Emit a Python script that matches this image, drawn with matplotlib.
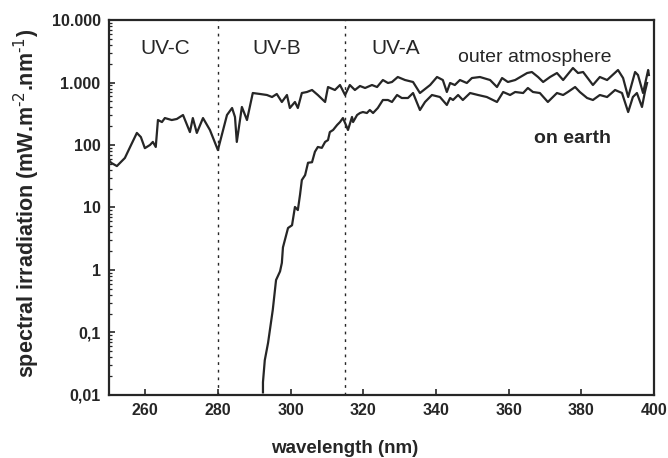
import numpy as np
import matplotlib.pyplot as plt
from matplotlib.ticker import FixedLocator, NullFormatter

# outer atmosphere spectrum (nm, mW m-2 nm-1)
outer_wl = [250.0, 250.6, 252.2, 254.4, 256.1, 257.7, 258.8, 259.9, 261.3, 262.1,
            262.9, 263.5, 264.6, 265.4, 267.3, 268.7, 270.4, 272.3, 273.1, 274.2,
            275.9, 277.8, 280.0, 282.5, 283.9, 284.7, 285.2, 286.6, 288.0, 289.6,
            291.6, 293.5, 294.9, 296.2, 297.6, 299.0, 299.8, 301.2, 302.0, 303.1,
            304.5, 305.9, 307.5, 309.5, 310.3, 312.2, 313.6, 315.0, 316.3, 317.7,
            319.1, 320.5, 322.4, 323.8, 325.4, 326.8, 327.9, 329.5, 331.5, 333.7,
            335.6, 338.4, 340.3, 341.9, 343.0, 343.9, 345.2, 346.6, 348.5, 349.9,
            352.1, 354.9, 356.8, 358.2, 359.8, 361.8, 365.1, 366.4, 368.1, 369.5,
            371.4, 373.3, 375.0, 377.7, 379.1, 380.5, 383.2, 385.1, 387.1, 390.1,
            391.5, 392.9, 394.8, 395.6, 397.0, 398.4, 398.6]
outer_val = [58, 52, 46, 62, 100, 156, 134, 89, 100, 112,
             93, 251, 233, 270, 251, 261, 302, 161, 270, 156,
             270, 174, 83, 302, 391, 281, 112, 406, 251, 679,
             655, 631, 586, 655, 488, 631, 391, 488, 391, 679,
             705, 759, 631, 488, 847, 759, 912, 631, 912, 759,
             879, 817, 912, 847, 1096, 982, 1019, 1225, 1096, 1019,
             679, 912, 1225, 1096, 705, 982, 912, 1096, 982, 1180,
             1225, 1096, 847, 1180, 1019, 1096, 1419, 1472, 1225, 1019,
             1225, 1419, 1096, 1706, 1419, 1472, 912, 1225, 1096, 1585,
             1180, 586, 1472, 1318, 679, 1585, 1318]

# spectrum on earth
earth_wl = [292.4, 292.4, 292.9, 293.8, 295.1, 296.0, 297.1, 297.6, 297.9, 299.3,
            300.4, 301.2, 302.0, 302.6, 303.1, 304.0, 304.8, 305.9, 306.7, 307.5,
            308.6, 309.5, 310.3, 310.8, 311.7, 312.8, 313.6, 314.4, 315.0, 315.8,
            316.9, 317.2, 318.3, 319.1, 319.9, 321.0, 321.8, 322.7, 324.0, 325.4,
            326.8, 327.9, 329.3, 330.6, 332.3, 333.7, 335.6, 337.0, 338.9, 341.1,
            343.0, 343.9, 344.7, 346.1, 347.4, 349.4, 351.6, 354.0, 356.8, 358.5,
            360.4, 361.8, 364.0, 365.3, 366.7, 368.6, 370.8, 373.3, 375.0, 376.3,
            378.3, 379.6, 381.6, 383.2, 385.1, 387.1, 389.3, 391.2, 392.9, 394.2,
            395.3, 396.7, 397.5, 398.1]
earth_val = [0.011, 0.016, 0.036, 0.068, 0.23, 0.69, 0.95, 1.3, 2.3, 4.7,
             5.2, 10.2, 9.1, 16, 27.5, 33, 52, 53, 78, 93,
             90, 112, 120, 161, 174, 209, 233, 270, 225, 174,
             281, 233, 302, 325, 337, 325, 363, 325, 391, 525,
             525, 488, 631, 565, 565, 679, 363, 488, 631, 586,
             437, 565, 525, 631, 525, 679, 631, 586, 488, 705,
             631, 705, 679, 817, 705, 679, 488, 679, 631, 705,
             847, 705, 565, 525, 631, 586, 759, 679, 337, 586,
             679, 406, 705, 982]

band_edges = [280, 315]
band_names = ["UV-C", "UV-B", "UV-A"]
xticks = [260, 280, 300, 320, 340, 360, 380, 400]
yticks = [0.01, 0.1, 1, 10, 100, 1000, 10000]
ytick_labels = ["0,01", "0,1", "1", "10", "100", "1.000", "10.000"]

plt.rcParams['font.family'] = ['Liberation Sans', 'DejaVu Sans']
ink = '#262626'

fig = plt.figure(figsize=(6.68, 4.58), dpi=100)
ax = fig.add_axes([0.163, 0.1376, 0.816, 0.8187])

ax.plot(outer_wl, outer_val, color=ink, lw=1.6)
ax.plot(earth_wl, earth_val, color=ink, lw=1.6)
for e in band_edges:
    ax.axvline(e, color=ink, lw=1.0, linestyle=(0, (2, 3.5)))

ax.set_yscale('log')
ax.set_xlim(250, 400)
ax.set_ylim(0.01, 10000)
ax.set_xticks(xticks)
ax.set_xticklabels([str(t) for t in xticks])
ax.yaxis.set_major_locator(FixedLocator(yticks))
ax.set_yticklabels(ytick_labels)
ax.yaxis.set_minor_formatter(NullFormatter())

ax.tick_params(axis='both', which='major', direction='in', length=4, width=1.2,
               colors=ink, labelsize=11.5, pad=6)
ax.tick_params(axis='y', which='minor', direction='in', length=2.5, width=0.9, colors=ink)
for lab in ax.get_xticklabels() + ax.get_yticklabels():
    lab.set_fontweight('bold')
for sp in ax.spines.values():
    sp.set_linewidth(1.6)
    sp.set_color(ink)

band_x = [0.103, 0.308, 0.527]
for name, bx in zip(band_names, band_x):
    ax.text(bx, 0.923, name, transform=ax.transAxes, ha='center', va='center',
            fontsize=15, color=ink)
ax.text(0.782, 0.901, "outer atmosphere", transform=ax.transAxes, ha='center',
        va='center', fontsize=14, color=ink)
ax.text(0.850, 0.683, "on earth", transform=ax.transAxes, ha='center',
        va='center', fontsize=14, color=ink, fontweight='bold')

fig.text(0.516, 0.0197, "wavelength (nm)", ha='center', va='center',
         fontsize=13.5, fontweight='bold', color=ink)
fig.text(0.040, 0.555, r"spectral irradiation (mW.m$^{\text{-2}}$.nm$^{\text{-1}}$)",
         rotation=90, ha='center', va='center', fontsize=15.5, fontweight='bold', color=ink)

fig.savefig("out.png", dpi=100)
